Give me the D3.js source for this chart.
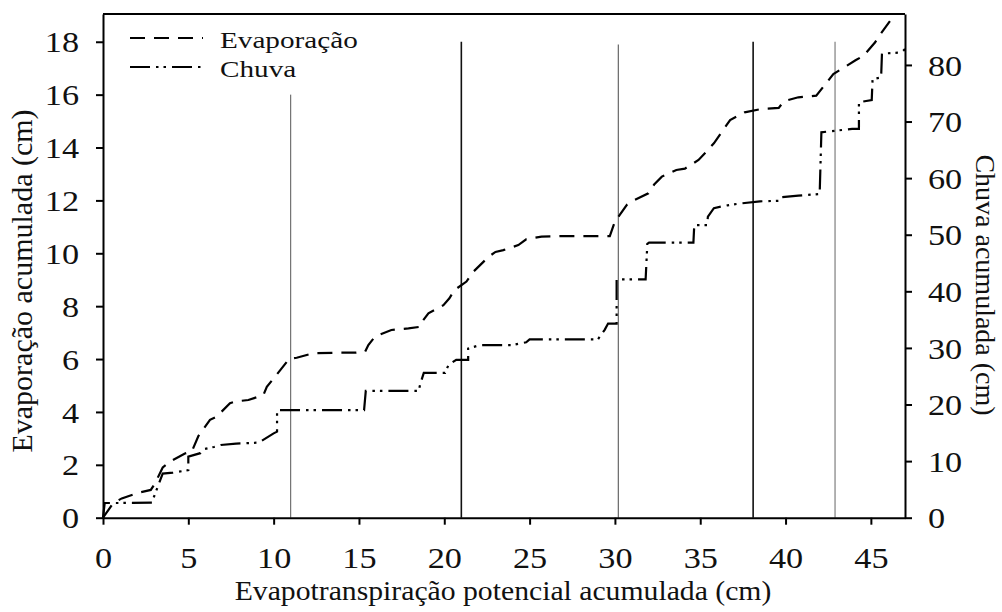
<!DOCTYPE html>
<html>
<head>
<meta charset="utf-8">
<script src="https://cdn.jsdelivr.net/npm/d3@7"></script>
<style>
  body { margin: 0; background: #fff; }
  text { font-family: "Liberation Serif", "Times New Roman", serif; fill: #111; }
</style>
</head>
<body>
<svg id="chart" width="1002" height="612"></svg>
<script>
// Tick values
const xTicks = [0, 5, 10, 15, 20, 25, 30, 35, 40, 45];
const leftTicks = [0, 2, 4, 6, 8, 10, 12, 14, 16, 18];
const rightTicks = [0, 10, 20, 30, 40, 50, 60, 70, 80];

// Accumulated evaporation (cm) against accumulated potential evapotranspiration (cm)
const evaporacao = [
  [0, 0], [0.6, 0.55], [1.1, 0.73], [2.1, 0.95], [2.8, 1.05], [3.05, 1.3], [3.5, 1.9],
  [3.93, 2.12], [4.8, 2.43], [5.2, 2.5], [5.59, 3.09], [6.27, 3.7], [6.66, 3.82],
  [7.44, 4.33], [7.8, 4.4], [8.52, 4.45], [9.4, 4.64], [9.6, 4.95], [10.4, 5.59],
  [10.9, 6.0], [11.35, 6.05], [12.3, 6.22], [13.7, 6.24], [14.77, 6.24], [15.36, 6.28],
  [15.55, 6.53], [15.94, 6.85], [16.9, 7.1], [17.9, 7.16], [18.6, 7.22], [18.7, 7.41],
  [19.07, 7.73], [19.95, 8.04], [20.3, 8.3], [20.6, 8.61], [21.3, 8.93], [21.7, 9.3],
  [22.6, 9.87], [23.0, 10.05], [23.46, 10.12], [24.34, 10.31], [24.8, 10.53], [25.7, 10.63],
  [26.8, 10.65], [29.7, 10.65], [30.0, 11.2], [30.7, 11.83], [31.1, 12.0], [31.96, 12.27],
  [32.3, 12.6], [32.75, 12.9], [33.6, 13.15], [34.1, 13.2], [34.9, 13.53], [35.3, 13.8],
  [35.8, 14.16], [36.75, 15.04], [37.6, 15.33], [38.6, 15.46], [39.6, 15.5], [39.9, 15.75],
  [40.75, 15.9], [41.8, 15.96], [42.5, 16.53], [42.8, 16.78], [43.6, 17.1], [44.1, 17.3],
  [44.57, 17.47], [45.25, 17.98], [45.5, 18.23], [46.2, 18.86], [46.5, 19.0]
];

// Accumulated rainfall (cm), right axis
const chuva = [
  [0, 0], [0.1, 2.6], [1.0, 2.6], [2.9, 2.65], [2.95, 3.4], [3.5, 7.8], [4.1, 7.95],
  [5.0, 8.4], [5.0, 10.8], [5.7, 11.4], [5.9, 12.1], [6.5, 12.5], [6.9, 12.85], [7.8, 13.1],
  [9.0, 13.25], [9.2, 13.4], [10.0, 14.9], [10.2, 15.2], [10.2, 19.0], [15.3, 19.0],
  [15.4, 22.4], [18.5, 22.4], [18.6, 23.7], [18.8, 25.6], [20.05, 25.6], [20.25, 27.0],
  [20.7, 27.9], [21.4, 27.9], [21.4, 29.9], [22.1, 30.5], [24.0, 30.5], [24.8, 31.0],
  [25.0, 31.5], [29.0, 31.5], [29.4, 33.2], [29.6, 34.3], [30.1, 34.3], [30.1, 42.1],
  [31.8, 42.1], [31.9, 48.4], [32.0, 48.6], [34.6, 48.6], [34.65, 51.7], [35.4, 51.7],
  [35.45, 53.2], [35.8, 54.7], [36.6, 55.2], [37.3, 55.5], [38.5, 55.9], [39.6, 56.0],
  [39.7, 56.6], [40.75, 56.9], [42.0, 57.2], [42.1, 68.1], [43.9, 68.7], [44.3, 68.7],
  [44.3, 73.4], [45.05, 73.8], [45.1, 77.5], [45.6, 77.8], [45.65, 82.0], [46.8, 82.2],
  [47.0, 82.8]
];

// Vertical reference lines: position on the x axis and top end (left-axis units)
const marcosX = [11, 21, 30.2, 38.1, 42.9];
const marcosTopo = [16, 18, 17.9, 18, 18];

const svg = d3.select("#chart");
const plotLeft = 103, plotRight = 905, plotTop = 14, plotBottom = 517.7;

const x = d3.scaleLinear().domain([0, 47]).range([plotLeft, plotRight]);
const yL = d3.scaleLinear().domain([0, 19.05]).range([plotBottom, plotTop]);
const yR = d3.scaleLinear().domain([0, 89]).range([plotBottom, plotTop]);

const SX = 1.18; // horizontal stretch of the tick lettering

// Vertical markers
const markerStyle = [
  { stroke: "#555", w: 1 },
  { stroke: "#111", w: 1.6 },
  { stroke: "#666", w: 1.2 },
  { stroke: "#111", w: 1.6 },
  { stroke: "#666", w: 1 }
];
svg.append("g").selectAll("line").data(marcosX).join("line")
  .attr("x1", d => x(d)).attr("x2", d => x(d))
  .attr("y1", plotBottom).attr("y2", (d, i) => yL(marcosTopo[i]))
  .attr("stroke", (d, i) => markerStyle[i].stroke)
  .attr("stroke-width", (d, i) => markerStyle[i].w);

// Series
const lineL = d3.line().x(d => x(d[0])).y(d => yL(d[1]));
const lineR = d3.line().x(d => x(d[0])).y(d => yR(d[1]));

svg.append("path").datum(evaporacao).attr("d", lineL)
  .attr("fill", "none").attr("stroke", "#000").attr("stroke-width", 2.2)
  .attr("stroke-dasharray", "15,9");
svg.append("path").datum(chuva).attr("d", lineR)
  .attr("fill", "none").attr("stroke", "#000").attr("stroke-width", 2.2)
  .attr("stroke-dasharray", "20,6,2.5,5,2.5,6");

// Frame
svg.append("line").attr("x1", plotLeft).attr("x2", plotRight).attr("y1", plotTop).attr("y2", plotTop)
  .attr("stroke", "#000").attr("stroke-width", 2);

function styleAxis(g) {
  g.select(".domain").attr("stroke", "#000").attr("stroke-width", 2);
  g.selectAll(".tick line").attr("stroke", "#000").attr("stroke-width", 2);
}

// Bottom axis
const gx = svg.append("g").attr("transform", `translate(0,${plotBottom})`)
  .call(d3.axisBottom(x).tickValues(xTicks).tickSize(7).tickSizeOuter(0).tickFormat(d3.format("d")));
styleAxis(gx);
gx.selectAll(".tick text").attr("y", 0).attr("dy", 0)
  .attr("transform", `translate(0,50) scale(${SX},1)`)
  .style("font-size", "29px").attr("font-family", null);

// Left axis
const gl = svg.append("g").attr("transform", `translate(${plotLeft},0)`)
  .call(d3.axisLeft(yL).tickValues(leftTicks).tickSize(7).tickSizeOuter(0).tickFormat(d3.format("d")));
styleAxis(gl);
gl.selectAll(".tick text").attr("x", 0).attr("dy", "0.35em")
  .attr("transform", `translate(-24,0) scale(${SX},1)`)
  .style("font-size", "29px").attr("font-family", null);

// Right axis
const gr = svg.append("g").attr("transform", `translate(${plotRight},0)`)
  .call(d3.axisRight(yR).tickValues(rightTicks).tickSize(7).tickSizeOuter(0).tickFormat(d3.format("d")));
styleAxis(gr);
gr.selectAll(".tick text").attr("x", 0).attr("dy", "0.35em")
  .attr("transform", `translate(23,0) scale(${SX},1)`)
  .style("font-size", "29px").attr("font-family", null);

// Axis titles
svg.append("text").attr("transform", `translate(503,600) scale(1.1,1)`)
  .attr("text-anchor", "middle").style("font-size", "27px")
  .text("Evapotranspiração potencial acumulada (cm)");
svg.append("text").attr("transform", `translate(32,281) rotate(-90)`)
  .attr("text-anchor", "middle").style("font-size", "30px")
  .text("Evaporação acumulada (cm)");
svg.append("text").attr("transform", `translate(976,285) rotate(90)`)
  .attr("text-anchor", "middle").style("font-size", "28px")
  .text("Chuva acumulada (cm)");

// Legend
const legend = [
  { name: "Evaporação", dash: "15,9", y: 38 },
  { name: "Chuva", dash: "20,6,2.5,5,2.5,6", y: 67 }
];
const lg = svg.append("g");
lg.selectAll("line").data(legend).join("line")
  .attr("x1", 130).attr("x2", 203).attr("y1", d => d.y).attr("y2", d => d.y)
  .attr("stroke", "#000").attr("stroke-width", 2.2).attr("stroke-dasharray", d => d.dash);
lg.selectAll("text").data(legend).join("text")
  .attr("transform", d => `translate(220,${d.y + 10}) scale(1.27,1)`)
  .style("font-size", "23px").text(d => d.name);
</script>
</body>
</html>
